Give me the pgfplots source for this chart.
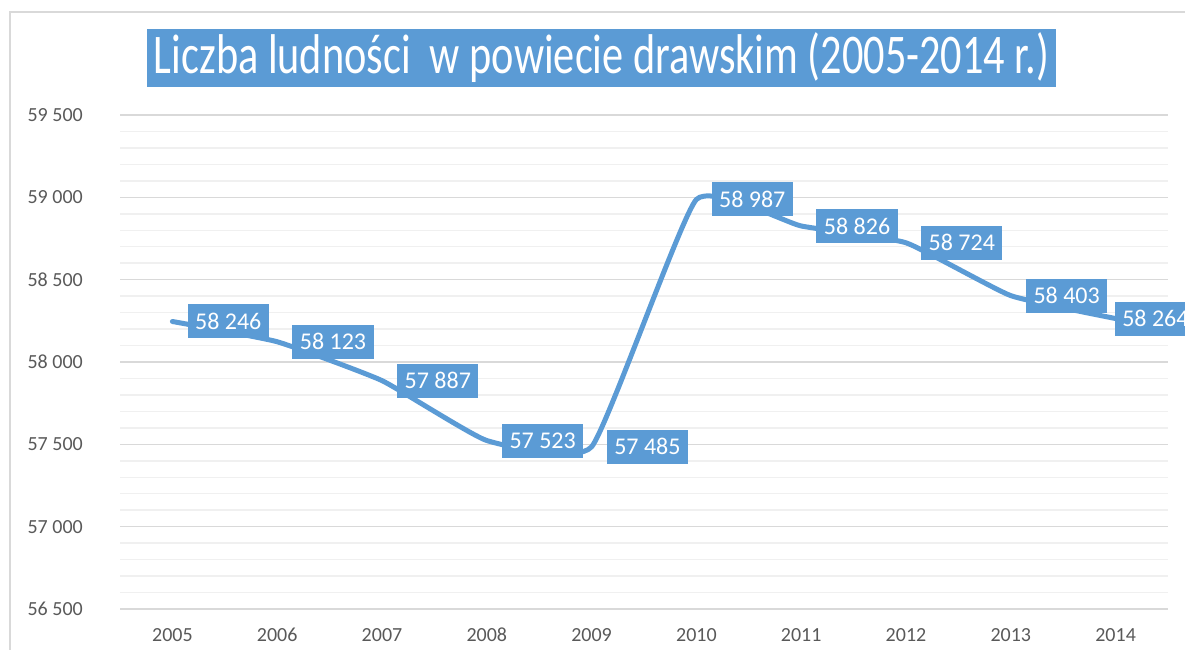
\documentclass[border=0pt]{standalone}
\usepackage{fontspec}
\setmainfont{Carlito}
\usepackage{graphicx}
\usepackage{pgfplots}
\pgfplotsset{compat=1.18}
\definecolor{lineblue}{HTML}{5B9BD5}
\definecolor{majgrid}{HTML}{D9D9D9}
\definecolor{mingrid}{HTML}{F0F0F0}
\definecolor{ticktext}{HTML}{595959}
\pgfplotstableread{
x y
2005 58246
2006 58123
2007 57887
2008 57523
2009 57485
2010 58987
2011 58826
2012 58724
2013 58403
2014 58264
}\popdata
\pgfplotstableread{
x y
2005 58246
2006 58123
2007 57887
2008 57523
2009 57485
2010 58987
2011 58826
2012 58724
2013 58403
}\firstlabels
\pgfplotstableread{
x y
2014 58264
}\lastlabel
\begin{document}
\begin{tikzpicture}[x=1pt,y=1pt]
\draw[majgrid, line width=1.5pt] (10,-10) -- (10,638) -- (1200,638);
\begin{axis}[
  at={(120pt,41pt)}, anchor=south west,
  scale only axis, width=1048pt, height=494pt,
  xmin=2004.5, xmax=2014.5, ymin=56500, ymax=59500,
  clip=false,
  scaled y ticks=false, scaled x ticks=false,
  xtick={2005,2006,2007,2008,2009,2010,2011,2012,2013,2014},
  xticklabels={2005,2006,2007,2008,2009,2010,2011,2012,2013,2014},
  ytick={56500,57000,57500,58000,58500,59000,59500},
  yticklabels={56 500,57 000,57 500,58 000,58 500,59 000,59 500},
  minor y tick num=4,
  ymajorgrids, yminorgrids,
  major grid style={majgrid, line width=1.5pt},
  minor grid style={mingrid, line width=1.5pt},
  axis line style={draw=none},
  major tick length=0pt, minor tick length=0pt,
  tick style={draw=none},
  /pgf/number format/assume math mode=true,
  xticklabel style={font=\fontsize{20}{24}\selectfont, text=ticktext, anchor=center, yshift=-26pt, inner sep=0pt},
  yticklabel style={font=\fontsize{20}{24}\selectfont, text=ticktext, anchor=east, xshift=-37pt, inner sep=0pt},
  lbl/.style={draw=none, mark=none, nodes near coords={\pgfmathprintnumber[1000 sep={\ }]{\pgfplotspointmeta}},
    nodes near coords style={anchor=west, xshift=#1, fill=lineblue, text=white,
     font=\fontsize{24}{28}\selectfont, inner xsep=7.5pt, inner ysep=0pt, minimum height=34pt}},
]
\addplot[lineblue, line width=5pt, line cap=round, line join=round, smooth, tension=0.25, mark=none]
  table {\popdata};
\addplot[lbl=15pt] table {\firstlabels};
\addplot[lbl=-1pt] table {\lastlabel};
\end{axis}
\node[fill=lineblue, text=white, minimum width=909pt, minimum height=58pt, inner sep=0pt] at (601.5,592)
  {\resizebox{895pt}{\height}{\fontsize{56}{60}\selectfont Liczba ludności\ \ w powiecie drawskim (2005-2014 r.)}};
\pgfresetboundingbox
\path[use as bounding box] (0,0) rectangle (1185,650);
\end{tikzpicture}
\end{document}
